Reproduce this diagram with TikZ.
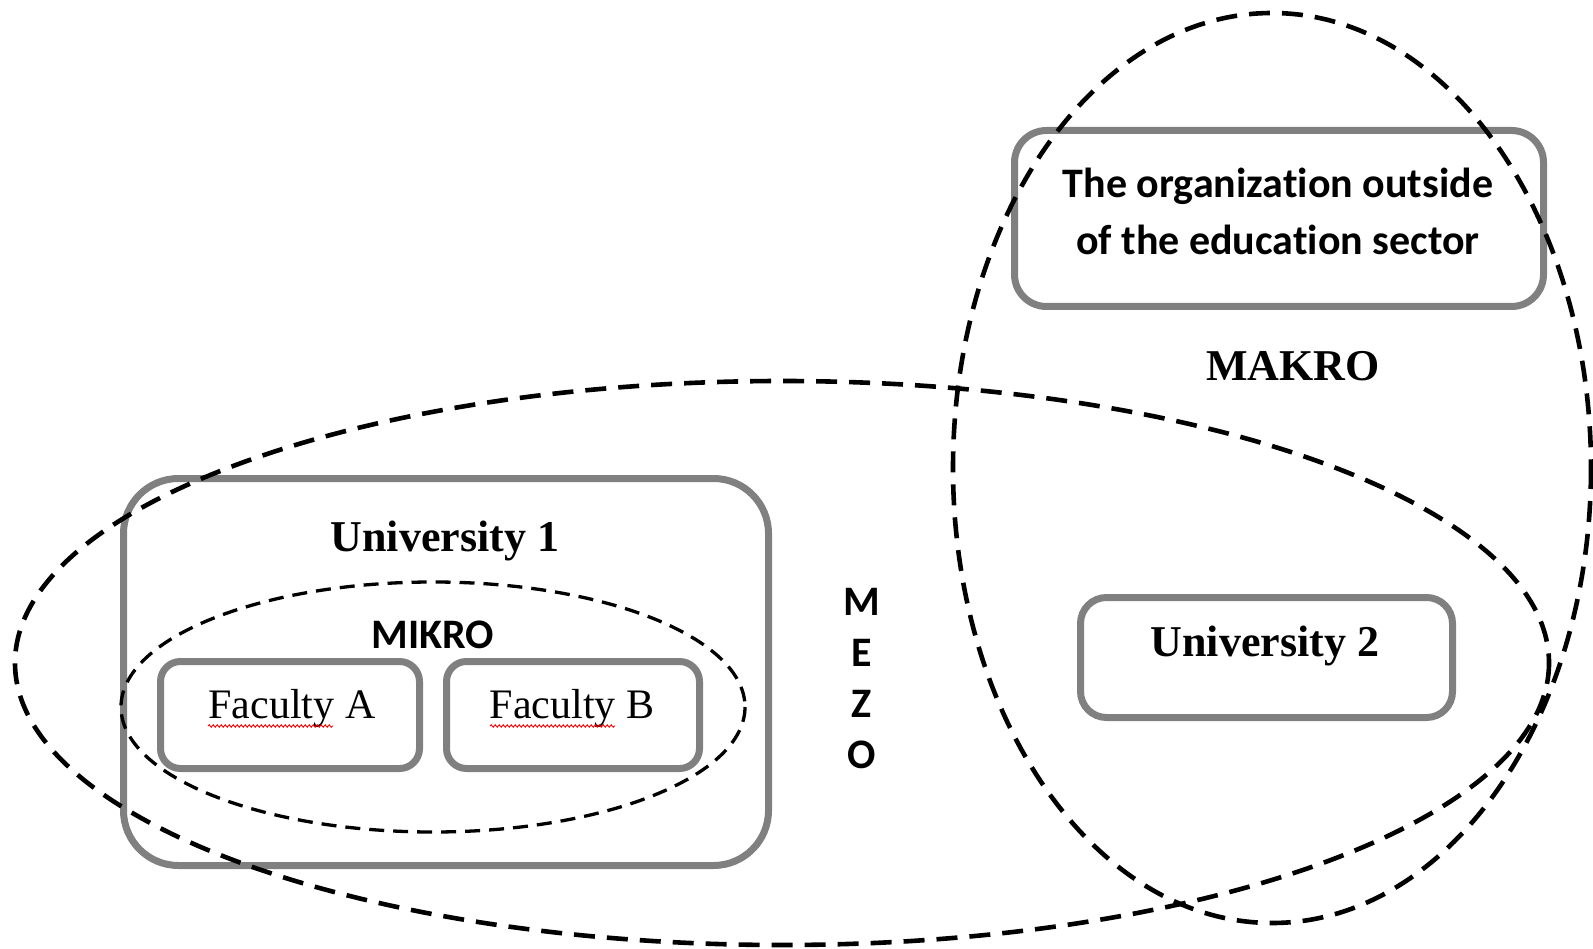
\documentclass[tikz,border=0pt]{standalone}
\usepackage{fontspec}
\setmainfont{Liberation Serif}
\newfontfamily\calfont[Ligatures=NoCommon]{Carlito}
\usetikzlibrary{decorations.pathmorphing}
\definecolor{boxgray}{RGB}{128,128,128}
\tikzset{
  gbox/.style={draw=boxgray, line width=7pt, rectangle, inner sep=0pt},
  bigdash/.style={draw=black, line width=4.6pt, dash pattern=on 21pt off 12pt},
  smalldash/.style={draw=black, line width=3.3pt, dash pattern=on 15pt off 9pt},
  serifb/.style={font=\fontsize{44}{50}\selectfont\bfseries, text=black, inner sep=0pt},
  serifr/.style={font=\fontsize{42}{50}\selectfont, text=black, inner sep=0pt},
  calb/.style={font=\calfont\fontsize{42}{57}\selectfont\bfseries, text=black, inner sep=0pt, align=center},
  squig/.style={draw=red, line width=0.9pt, decorate, decoration={snake, amplitude=1.2pt, segment length=4pt}}
}
\begin{document}
\begin{tikzpicture}[x=1pt,y=-1pt]
\useasboundingbox (0,0) rectangle (1593,949);
% boxes
\node[gbox, minimum width=645pt, minimum height=387pt, rounded corners=55pt] (u1) at (446,672) {};
\node[gbox, minimum width=259pt, minimum height=107pt, rounded corners=20pt] (fa) at (290,715) {};
\node[gbox, minimum width=253pt, minimum height=107pt, rounded corners=20pt] (fb) at (573,715) {};
\node[gbox, minimum width=529pt, minimum height=176pt, rounded corners=32pt] (org) at (1279,218.5) {};
\node[gbox, minimum width=372pt, minimum height=120pt, rounded corners=26pt] (u2) at (1266.5,657.5) {};
% ellipses
\coordinate (mezoc) at (782,663);
\coordinate (makroc) at (1272,468);
\coordinate (mikroc) at (433,707);
\draw[bigdash] (mezoc) ellipse [x radius=767, y radius=282];
\draw[bigdash] (makroc) ellipse [x radius=319, y radius=455];
\draw[smalldash] (mikroc) ellipse [x radius=312, y radius=125];
% texts
\node[serifb] (u1t) at (445,541) {University 1};
\node[calb] (mikrot) at (433,635) {MIKRO};
\node[serifr] (fat) at (292,708) {Faculty A};
\node[serifr] (fbt) at (572,708) {Faculty B};
\coordinate (sqa1) at (208,726); \coordinate (sqa2) at (333,726);
\coordinate (sqb1) at (490,726); \coordinate (sqb2) at (615,726);
\draw[squig] (sqa1) -- (sqa2);
\draw[squig] (sqb1) -- (sqb2);
\node[calb] (orgt) at (1278,211) {The organization outside\\of the education sector};
\node[serifb] (makrot) at (1293,366) {MAKRO};
\node[serifb] (u2t) at (1265,646) {University 2};
\node[calb] (m1) at (862,602) {M};
\node[calb] (m2) at (862,653) {E};
\node[calb] (m3) at (862,704) {Z};
\node[calb] (m4) at (862,755) {O};
\end{tikzpicture}
\end{document}
